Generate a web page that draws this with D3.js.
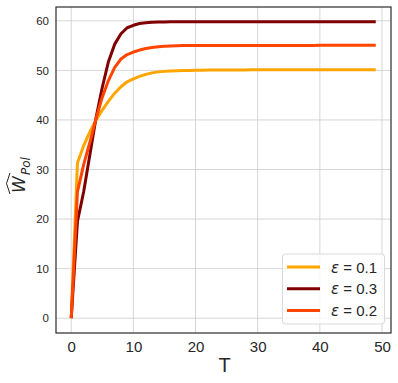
<!DOCTYPE html>
<html><head><meta charset="utf-8">
<script src="https://cdn.jsdelivr.net/npm/d3@7"></script>
<style>body{margin:0;background:#fff}</style>
</head><body>
<script>
const T = d3.range(0, 50);
const w01 = [0,31.3,34.8,37.6,40.0,42.0,43.8,45.4,46.7,47.7,48.3,48.8,49.2,49.5,49.7,49.8,49.9,49.95,50.0,50.0,50.05,50.05,50.1,50.1,50.1,50.1,50.1,50.1,50.1,50.12,50.12,50.12,50.12,50.12,50.12,50.13,50.13,50.13,50.13,50.13,50.14,50.14,50.14,50.14,50.14,50.15,50.15,50.15,50.15,50.15];
const w03 = [0,19.5,25.5,33.0,40.5,46.6,51.8,55.3,57.4,58.6,59.1,59.45,59.6,59.7,59.75,59.78,59.8,59.8,59.8,59.8,59.8,59.8,59.8,59.8,59.8,59.8,59.8,59.8,59.8,59.8,59.8,59.8,59.8,59.8,59.8,59.8,59.8,59.8,59.8,59.8,59.8,59.8,59.8,59.8,59.8,59.8,59.8,59.8,59.8,59.8];
const w02 = [0,25.5,31.0,35.5,40.3,44.6,48.0,50.6,52.3,53.2,53.7,54.1,54.4,54.6,54.75,54.85,54.9,54.95,55.0,55.0,55.0,55.0,55.0,55.0,55.0,55.02,55.02,55.02,55.02,55.02,55.03,55.03,55.03,55.03,55.03,55.04,55.04,55.04,55.04,55.04,55.05,55.05,55.05,55.05,55.05,55.05,55.05,55.05,55.05,55.05];
const seriesNames = ["0.1","0.3","0.2"];
const seriesColors = ["#FFA500","#800000","#FF4500"];
const seriesValues = [w01, w03, w02];
const xTicks = [0,10,20,30,40,50];
const yTicks = [0,10,20,30,40,50,60];

const W = 398, H = 383;
const L = 56, R = 391, Tp = 7, B = 333;
const svg = d3.select("body").append("svg").attr("width", W).attr("height", H);
const x = d3.scaleLinear().domain([-2.45, 51.45]).range([L, R]);
const y = d3.scaleLinear().domain([-2.99, 62.79]).range([B, Tp]);

// grid
const g = svg.append("g");
g.selectAll("line.vx").data(xTicks).join("line")
  .attr("x1", d => x(d)).attr("x2", d => x(d)).attr("y1", Tp).attr("y2", B)
  .attr("stroke", "#cccccc").attr("stroke-width", 0.8);
g.selectAll("line.hy").data(yTicks).join("line")
  .attr("y1", d => y(d)).attr("y2", d => y(d)).attr("x1", L).attr("x2", R)
  .attr("stroke", "#cccccc").attr("stroke-width", 0.8);

// lines
const line = d3.line().x((d, i) => x(T[i])).y(d => y(d));
seriesValues.forEach((vals, k) => {
  svg.append("path").datum(vals).attr("d", line)
    .attr("fill", "none").attr("stroke", seriesColors[k]).attr("stroke-width", 3)
    .attr("stroke-linejoin", "round").attr("stroke-linecap", "butt");
});

// frame
svg.append("rect").attr("x", L).attr("y", Tp).attr("width", R - L).attr("height", B - Tp)
  .attr("fill", "none").attr("stroke", "#333333").attr("stroke-width", 1.25);

// axes via d3
const xAxis = svg.append("g").attr("transform", `translate(0,${B})`)
  .call(d3.axisBottom(x).tickValues(xTicks).tickSize(0).tickPadding(8));
xAxis.select(".domain").remove();
xAxis.selectAll("text").attr("font-family", "Liberation Sans, Arial, sans-serif")
  .attr("font-size", 15).attr("fill", "#262626");
const yAxis = svg.append("g").attr("transform", `translate(${L},0)`)
  .call(d3.axisLeft(y).tickValues(yTicks).tickSize(0).tickPadding(7));
yAxis.select(".domain").remove();
yAxis.selectAll("text").attr("font-family", "Liberation Sans, Arial, sans-serif")
  .attr("font-size", 11.5).attr("fill", "#262626");

// x label
svg.append("text").attr("x", (L + R) / 2 + 1).attr("y", 372).attr("text-anchor", "middle")
  .attr("font-family", "Liberation Sans, Arial, sans-serif").attr("font-size", 20)
  .attr("fill", "#262626").text("T");

// y label
const yl = svg.append("g").attr("transform", "translate(25,172) rotate(-90)");
yl.append("text").attr("x", -21).attr("y", 0)
  .attr("font-family", "DejaVu Sans, sans-serif").attr("font-style", "italic")
  .attr("font-size", 17).attr("fill", "#262626").text("W");
yl.append("text").attr("x", -3).attr("y", 5)
  .attr("font-family", "DejaVu Sans, sans-serif").attr("font-style", "italic")
  .attr("font-size", 12).attr("fill", "#262626").text("Pol");
// wide hat over W
yl.append("path").attr("d", "M -22,-15 L -11.5,-18.5 L -1,-15")
  .attr("fill", "none").attr("stroke", "#262626").attr("stroke-width", 1);

// legend
const lg = svg.append("g");
lg.append("rect").attr("x", 282.5).attr("y", 254).attr("width", 102).attr("height", 70)
  .attr("rx", 3).attr("fill", "#ffffff").attr("fill-opacity", 0.8)
  .attr("stroke", "#d9d9d9").attr("stroke-width", 1);
seriesNames.forEach((nm, k) => {
  const yy = 267 + k * 21.8;
  lg.append("line").attr("x1", 287).attr("x2", 320).attr("y1", yy).attr("y2", yy)
    .attr("stroke", seriesColors[k]).attr("stroke-width", 3);
  const t = lg.append("text").attr("x", 331).attr("y", yy + 5.5)
    .attr("font-family", "Liberation Sans, Arial, sans-serif").attr("font-size", 15).attr("fill", "#262626");
  t.append("tspan").attr("font-family", "DejaVu Sans, sans-serif").attr("font-style", "italic").text("ε");
  t.append("tspan").text(" = " + nm);
});
</script>
</body></html>
